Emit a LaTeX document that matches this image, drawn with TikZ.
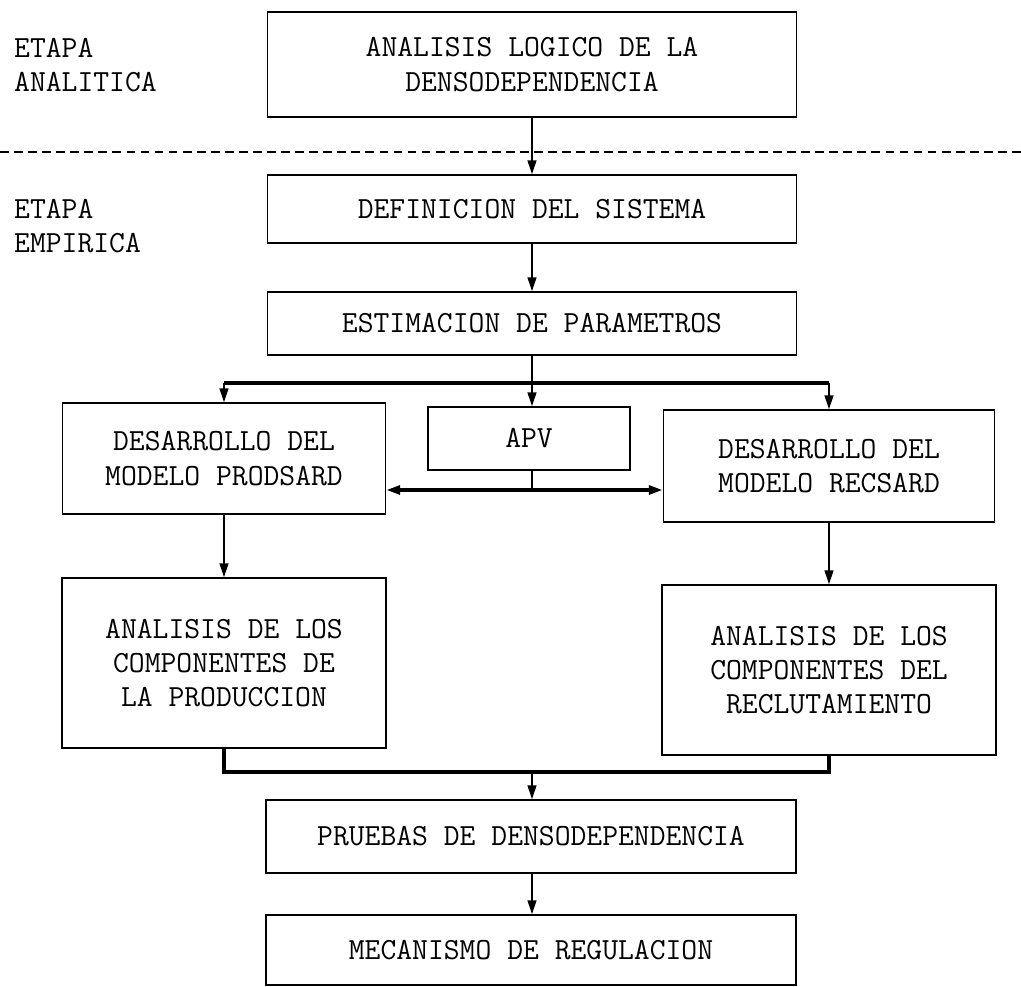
\documentclass[tikz,border=0pt]{standalone}
\usepackage{fontspec}
\usetikzlibrary{arrows.meta}

\begin{document}
\begin{tikzpicture}[x=0.02cm, y=-0.02cm,
    >={Triangle[length=8pt,width=5pt]},
    caja/.style={draw, line width=0.8pt, align=center, inner sep=2pt},
    flecha/.style={->, line width=1.2pt},
    barra/.style={line width=2.2pt},
    every node/.style={font=\ttfamily\fontsize{17.5}{19.5}\selectfont}]
    \useasboundingbox (0,0) rectangle (1021,987);

    % Etapa analitica
    \node[align=left, anchor=west] (etana) at (8,65) {ETAPA\\ANALITICA};
    \node[caja, minimum width=10.58cm, minimum height=2.1cm] (ana) at (532,64.5)
          {ANALISIS LOGICO DE LA\\DENSODEPENDENCIA};

    % Linea divisoria
    \draw[dashed, line width=1.1pt, dash pattern=on 5pt off 3pt] (0,152) -- (1021,152);

    % Etapa empirica
    \node[align=left, anchor=west] (etemp) at (8,226) {ETAPA\\EMPIRICA};
    \node[caja, minimum width=10.58cm, minimum height=1.36cm] (def) at (532,209) {DEFINICION DEL SISTEMA};
    \node[caja, minimum width=10.58cm, minimum height=1.26cm] (est) at (532,323.5) {ESTIMACION DE PARAMETROS};

    % Modelos
    \node[caja, minimum width=6.46cm, minimum height=2.22cm] (prod) at (224,458.5) {DESARROLLO DEL\\MODELO PRODSARD};
    \node[caja, minimum width=4.04cm, minimum height=1.26cm] (apv) at (529,438.5) {APV};
    \node[caja, minimum width=6.62cm, minimum height=2.24cm] (rec) at (829,466) {DESARROLLO DEL\\MODELO RECSARD};

    % Componentes
    \node[caja, minimum width=6.48cm, minimum height=3.4cm] (cprod) at (224,663) {ANALISIS DE LOS\\COMPONENTES DE\\LA PRODUCCION};
    \node[caja, minimum width=6.68cm, minimum height=3.4cm] (crec) at (829,670) {ANALISIS DE LOS\\COMPONENTES DEL\\RECLUTAMIENTO};

    % Pruebas y mecanismo
    \node[caja, minimum width=10.6cm, minimum height=1.46cm] (prue) at (531,836.5) {PRUEBAS DE DENSODEPENDENCIA};
    \node[caja, minimum width=10.6cm, minimum height=1.4cm] (meca) at (531,950) {MECANISMO DE REGULACION};

    % Puntos de union
    \coordinate (j1) at (532,383);
    \coordinate (j2) at (532,490);
    \coordinate (j3) at (532,772);

    % Conexiones
    \draw[flecha] (ana) -- (def);
    \draw[flecha] (def) -- (est);
    \draw[line width=1.2pt] (est.south -| j1) -- (j1);
    \draw[barra] (j1 -| prod) -- (j1 -| rec);
    \draw[flecha] (j1 -| prod) -- (prod.north);
    \draw[flecha] (j1) -- (apv.north -| j1);
    \draw[flecha] (j1 -| rec) -- (rec.north);
    \draw[line width=1.2pt] (apv.south -| j2) -- (j2);
    \draw[barra, <->] (j2 -| prod.east) -- (j2 -| rec.west);
    \draw[flecha] (prod) -- (cprod);
    \draw[flecha] (rec) -- (crec);
    \draw[barra] (cprod.south) -- (j3 -| cprod) -- (j3 -| crec) -- (crec.south);
    \draw[flecha] (j3) -- (prue.north -| j3);
    \draw[flecha] (prue.south -| j3) -- (meca.north -| j3);
\end{tikzpicture}
\end{document}
